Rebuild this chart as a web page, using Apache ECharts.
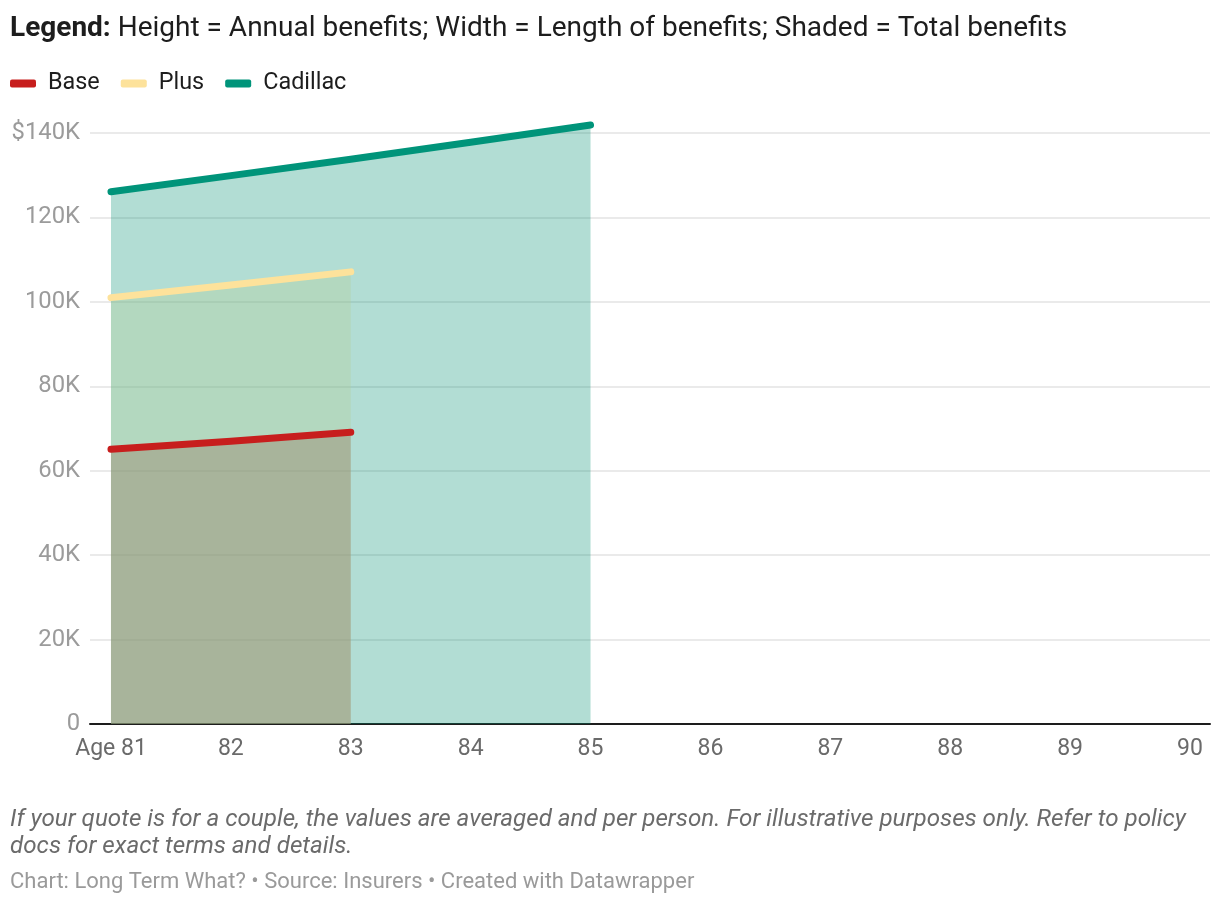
<!DOCTYPE html>
<html>
<head>
<meta charset="utf-8">
<script src="https://cdn.jsdelivr.net/npm/echarts@6/dist/echarts.min.js"></script>
<style>
  html, body { margin: 0; padding: 0; background: #fff; overflow: hidden; }
  #chart { width: 1220px; height: 908px; }
</style>
</head>
<body>
<div id="chart"></div>
<script>
// ---- Data ----
const ages = [81, 82, 83, 84, 85, 86, 87, 88, 89, 90];
const baseAges = [81, 82, 83];
const baseValues = [65100, 67000, 69100];
const plusAges = [81, 82, 83];
const plusValues = [101000, 104000, 107100];
const cadillacAges = [81, 82, 83, 84, 85];
const cadillacValues = [126100, 129900, 133800, 137800, 141900];
const yTicks = [0, 20000, 40000, 60000, 80000, 100000, 120000, 140000];

const seriesNames = ['Base', 'Plus', 'Cadillac'];
const lineColors = { Base: '#c71e1d', Plus: '#fde29b', Cadillac: '#00947a' };
const fillColors = {
  Cadillac: 'rgba(0,142,112,0.3)',
  Plus: 'rgba(180,207,152,0.35)',
  Base: 'rgba(153,128,103,0.4)'
};

function pairs(xs, ys) { return xs.map((x, i) => [x, ys[i]]); }

const FONT = 'Roboto, "Noto Sans", sans-serif';

function makeSeries(name, xs, ys, z) {
  return {
    name: name,
    type: 'line',
    data: pairs(xs, ys),
    symbol: 'none',
    clip: false,
    z: z,
    color: lineColors[name],
    lineStyle: { color: lineColors[name], width: 7, cap: 'round', join: 'round' },
    areaStyle: { color: fillColors[name], opacity: 1 },
    emphasis: { disabled: true }
  };
}

const chart = echarts.init(document.getElementById('chart'), null, { renderer: 'canvas' });
chart.setOption({
  animation: false,
  backgroundColor: '#ffffff',
  textStyle: { fontFamily: FONT },
  title: {
    left: 5,
    top: 10,
    text: '{b|Legend:} Height = Annual benefits; Width = Length of benefits; Shaded = Total benefits',
    textStyle: {
      fontFamily: FONT,
      fontSize: 28,
      fontWeight: 'normal',
      color: '#1d1d1d',
      rich: {
        b: { fontFamily: FONT, fontSize: 28, fontWeight: 'bold', color: '#1d1d1d' }
      }
    }
  },
  legend: {
    data: seriesNames,
    left: 5,
    top: 67,
    icon: 'roundRect',
    itemWidth: 26,
    itemHeight: 8,
    itemGap: 21,
    selectedMode: false,
    textStyle: { fontFamily: FONT, fontSize: 23.4, color: '#1d1d1d', padding: [0, 0, 0, 7] }
  },
  grid: { left: 90, right: 10, top: 133, bottom: 184, containLabel: false },
  xAxis: {
    type: 'value',
    min: 80.825,
    max: 90.167,
    axisLine: { show: true, lineStyle: { color: '#1d1d1d', width: 2 } },
    axisTick: { show: false },
    splitLine: { show: false },
    axisLabel: {
      customValues: ages,
      margin: 14,
      fontFamily: FONT,
      fontSize: 23,
      color: '#6a6a6a',
      formatter: v => (v === ages[0] ? 'Age ' + v : String(v))
    }
  },
  yAxis: {
    type: 'value',
    min: yTicks[0],
    max: yTicks[yTicks.length - 1],
    interval: 20000,
    axisLine: { show: false },
    axisTick: { show: false },
    splitLine: { show: true, lineStyle: { color: '#e3e3e3', width: 1.5 } },
    axisLabel: {
      margin: 10,
      padding: [3, 0, 0, 0],
      fontFamily: FONT,
      fontSize: 23.8,
      color: '#9b9b9b',
      formatter: v => {
        if (v === 0) return '0';
        const s = (v / 1000) + 'K';
        return v === yTicks[yTicks.length - 1] ? '$' + s : s;
      }
    }
  },
  series: [
    makeSeries('Cadillac', cadillacAges, cadillacValues, 2),
    makeSeries('Plus', plusAges, plusValues, 3),
    makeSeries('Base', baseAges, baseValues, 4)
  ],
  graphic: [
    {
      type: 'text', left: 10, top: 806,
      style: {
        text: 'If your quote is for a couple, the values are averaged and per person. For illustrative purposes only. Refer to policy\ndocs for exact terms and details.',
        fontFamily: FONT, fontSize: 24.2, fontStyle: 'italic', fill: '#6b6b6b', lineHeight: 27
      }
    },
    {
      type: 'text', left: 10, top: 871,
      style: {
        text: 'Chart: Long Term What? \u2022 Source: Insurers \u2022 Created with Datawrapper',
        fontFamily: FONT, fontSize: 22, fill: '#9a9a9a'
      }
    }
  ]
});
</script>
</body>
</html>
